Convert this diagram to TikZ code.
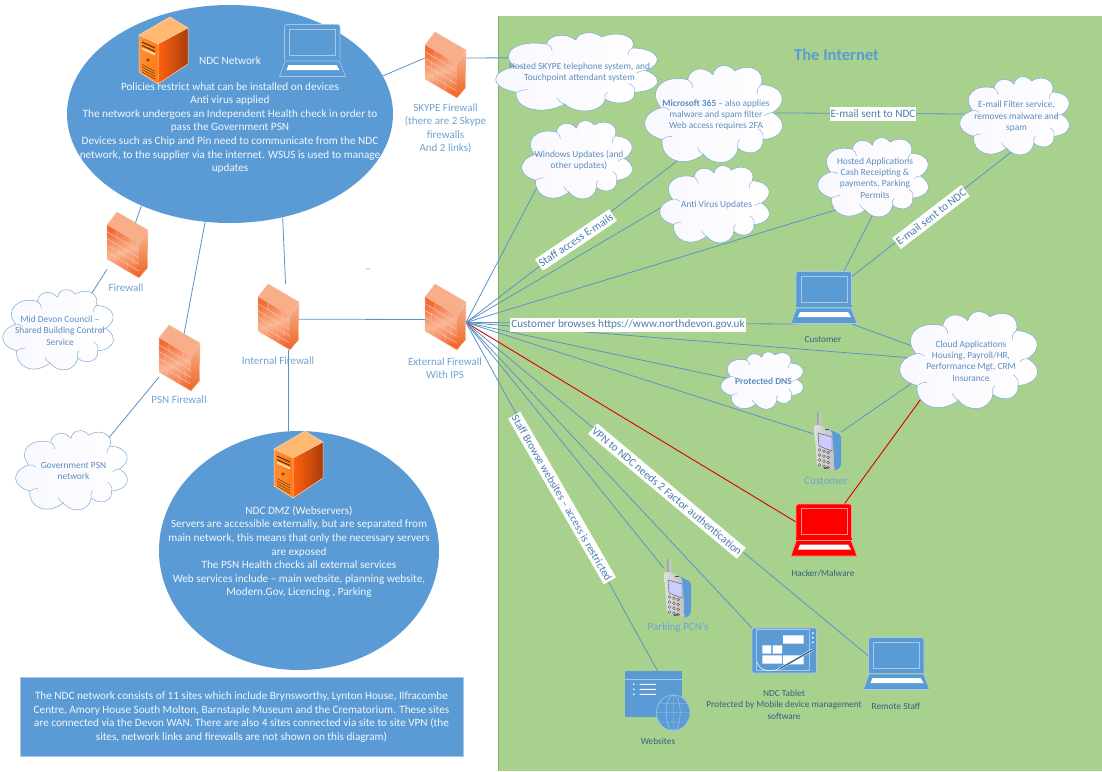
\documentclass[tikz,border=0pt]{standalone}
\usepackage{fontspec}
\setmainfont{Carlito}
\usetikzlibrary{shapes.geometric}
\definecolor{ofblue}{HTML}{5B9BD5}
\definecolor{ofgreen}{HTML}{A9D18E}
\definecolor{ofedge}{HTML}{7FB560}
\definecolor{linkblue}{HTML}{5B93C9}
\definecolor{cloudtxt}{HTML}{5E8DBE}
\definecolor{lbltxt}{HTML}{6FA3D3}
\definecolor{darktxt}{HTML}{35607F}
\definecolor{lidline}{HTML}{A9C8E8}
\definecolor{fwmain}{HTML}{F26A32}
\definecolor{fwlight}{HTML}{F9B492}
\definecolor{fwside}{HTML}{EE6420}
\definecolor{fwtop}{HTML}{F8AE88}
\definecolor{fwbrick}{HTML}{FBC4A6}
\pgfdeclarelayer{bg}\pgfdeclarelayer{lines}\pgfsetlayers{bg,lines,main}
\tikzset{
  cb/.style={bend left=70,looseness=1.5},
  anchorbox/.style={rectangle,inner sep=0pt,outer sep=0pt,minimum width=#1},
  cloudanchor/.style={ellipse,inner sep=0pt,outer sep=0pt},
  link/.style={draw=linkblue,line width=0.8pt},
  redlink/.style={draw=red!85!black,line width=0.9pt},
  body/.style={align=center,text=white!92!ofblue,font=\fontsize{11.2}{13.6}\selectfont,inner sep=0pt},
  cloudtext/.style={align=center,text=cloudtxt,font=\fontsize{9.4}{11.4}\selectfont,inner sep=0pt},
  fwlabel/.style={align=center,text=lbltxt,font=\fontsize{11}{13.5}\selectfont,inner sep=0pt},
  iconlabel/.style={align=center,text=darktxt,font=\fontsize{9.3}{11.4}\selectfont,inner sep=0pt},
  linklabel/.style={fill=white,text=linkblue!85!black,font=\fontsize{11.2}{13}\selectfont,inner xsep=1pt,inner ysep=0pt,minimum height=14pt},
  bluearea/.style={fill=ofblue,draw=none},
}
% cloud: name, cx, cy, w, h, text
\newcommand\cloudN[6]{%
  \begin{scope}[shift={(#2,#3)},xscale={#4/2*0.95},yscale={#5/2}]
    \draw[draw=linkblue!80,line width=0.5pt,left color=blue!3!white,right color=white]
      (-.88,-.15) to[cb] (-.45,-.72) to[cb] (-.05,-.82) to[cb] (.3,-.9) to[cb] (.72,-.62)
      to[cb] (.9,-.05) to[cb] (.75,.5) to[cb] (.35,.68) to[cb] (-.2,.8) to[cb] (-.86,.5) to[cb] (-.88,-.15);
    \draw[draw=linkblue!80,line width=0.4pt]
      (-.88,-.15) to[bend left=30] (-.74,-.1)
      (-.45,-.72) to[bend left=25] (-.37,-.55)
      (.72,-.62) to[bend right=25] (.66,-.44)
      (.9,-.05) to[bend right=25] (.77,.02)
      (.75,.5) to[bend right=30] (.67,.28)
      (.35,.68) to[bend left=25] (.38,.5)
      (-.2,.8) to[bend left=20] (-.3,.66)
      (-.86,.5) to[bend left=25] (-.7,.44);
  \end{scope}
  \node[cloudanchor,minimum width={0.9*#4},minimum height={0.9*#5}] (#1) at (#2,#3) {};
  \node[cloudtext] (#1-text) at (#2,#3) {#6};
}
% firewall: name, left, top
\newcommand\firewallN[3]{%
  \begin{scope}[shift={(#2,#3)}]
    \fill[fill=fwtop] (0,13) -- (10,0) -- (41,18) -- (32,32) -- cycle;
    \shade[top color=fwlight,bottom color=fwside] (32,32) -- (41,18) -- (40.5,56) -- (32,66) -- cycle;
    \shade[left color=fwmain,right color=fwmain,middle color=fwlight,shading angle=20]
       (0,13) -- (32,32) -- (32,66) -- (0,47) -- cycle;
    \draw[fwbrick,line width=0.5pt]
      (0,19.8) -- (32,38.8) (0,26.6) -- (32,45.6) (0,33.4) -- (32,52.4) (0,40.2) -- (32,59.2)
      (10,19) -- (10,25.7) (24,27) -- (24,33.8) (6,29) -- (6,35.7) (18,36) -- (18,42.9)
      (12,37) -- (12,44) (26,45) -- (26,52) (8,43) -- (8,50) (20,50) -- (20,57);
    \draw[white!60!fwmain,line width=0.4pt] (0,13) -- (10,0) -- (41,18) -- (40.5,56) -- (32,66) -- (0,47) -- cycle (32,32) -- (41,18);
  \end{scope}
  \node[anchorbox=41pt,minimum height=66pt] (#1) at (#2+20.5,#3+33) {};
}
% server: name, left, top
\newcommand\serverN[3]{%
  \begin{scope}[shift={(#2,#3)}]
    \fill[orange!55!white] (0,18) -- (31,0) -- (49,11) -- (19,27) -- cycle;
    \shade[left color=orange!90!red!80,right color=orange!85!red!90] (0,18) -- (19,27) -- (19,67) -- (0,55) -- cycle;
    \shade[left color=orange!70!red!95,right color=orange!60!red!65!black!95] (19,27) -- (49,11) -- (49,47) -- (19,67) -- cycle;
    \draw[white!70!orange,line width=0.5pt] (0,18) -- (31,0) -- (49,11) -- (49,47) -- (19,67) -- (0,55) -- cycle (0,18) -- (19,27) -- (49,11) (19,27) -- (19,67);
    \draw[black!70!orange,line width=0.9pt] (3,25) -- (16,31) (3,28.5) -- (16,34.5);
    \fill[white!70!orange] (3,30.5) -- (16,36.5) -- (16,38.5) -- (3,32.5) -- cycle;
    \fill[black!70!orange] (9,43) circle (1.6);
    \fill[green!40!white] (9,43) circle (0.7);
    \draw[black!60!orange,line width=0.45pt] (3,50) -- (16,57) (3,52.5) -- (16,59.5) (3,55) -- (16,62) (3,47.5) -- (16,54.5);
  \end{scope}
  \node[anchorbox=49pt,minimum height=66pt] (#1) at (#2+24.5,#3+33) {};
}
% laptop: name, left, top, fill, outline, scaled to 66x53
\newcommand\laptopN[5]{%
  \begin{scope}[shift={(#2,#3)}]
    \draw[fill=#4,draw=#5,line width=0.6pt,rounded corners=2.5pt] (5,36) -- (5,0.5) -- (60.5,0.5) -- (60.5,36);
    \fill[#4] (5,34) rectangle (60.5,36);
    \draw[draw=#5,line width=0.6pt] (10,5) rectangle (56,31);
    \draw[fill=#4,draw=#5,line width=0.6pt] (5.5,37) -- (60,37) -- (66,52.5) -- (0,52.5) -- cycle;
    \fill[white] (9,41) -- (57,41) -- (60,46) -- (7,46) -- cycle;
  \end{scope}
  \node[anchorbox=56pt,minimum height=53pt] (#1) at (#2+33,#3+26.5) {};
}
% phone: name, left, top
\newcommand\phoneN[3]{%
  \begin{scope}[shift={(#2,#3)}]
    \fill[gray!45,rounded corners=1pt] (3,0) rectangle (7,14);
    \fill[gray!70] (3,0) rectangle (4.5,14);
    \fill[ofblue,rounded corners=2pt] (15,17) -- (27,23) -- (27,55) -- (21,59) -- (17,58) -- cycle;
    \shade[left color=gray!25,right color=gray!50,rounded corners=2pt] (0,13) -- (6,13) -- (18,19) -- (21,59) -- (3,54) -- cycle;
    \draw[black!70,fill=white!80!blue,line width=0.4pt] (4,21) -- (18,25) -- (18,39) -- (5,34) -- cycle;
    \foreach \r in {0,1,2,3}{\foreach \c in {0,1,2}{
      \draw[black!70,line width=0.35pt] ({5.6+\c*4.3},{38+\r*5+\c*1.2}) circle (1.4);}}
    \fill[black!70] (11,16.5) rectangle (15,18);
    \fill[black!70] (10,57) -- (14,56) -- (14,55) -- (10,55.5) -- cycle;
  \end{scope}
  \node[anchorbox=27pt,minimum height=59pt] (#1) at (#2+13.5,#3+29.5) {};
}
\begin{document}
\begin{tikzpicture}[x=1pt,y=-1pt,line cap=butt]
\useasboundingbox (0,0) rectangle (1102,771);
\begin{pgfonlayer}{bg}
  \fill[white] (0,0) rectangle (1102,771);
  \fill[ofgreen] (498,16) rectangle (1102,771);
  \draw[ofedge,line width=1pt] (498,16) -- (498,771);
\end{pgfonlayer}

% --- main blue areas
\node[ellipse,bluearea,inner sep=0pt,minimum width=326pt,minimum height=218pt] (ndc) at (230,114) {};
\node[ellipse,bluearea,inner sep=0pt,minimum width=280pt,minimum height=239pt] (dmz) at (299,550.5) {};
\node[rectangle,draw=lidline,line width=0.4pt,fill=ofblue,minimum width=443pt,minimum height=79pt,inner sep=0pt] (sites) at (241.5,716.5) {};

\serverN{ndcserver}{139}{17}
\laptopN{ndclaptop}{279.5}{24}{ofblue}{lidline}
\node[body] (ndctitle) at (230,61) {NDC Network};
\node[body] (ndctext) at (230,128) {Policies restrict what can be installed on devices\\Anti virus applied\\The network undergoes an Independent Health check in order to\\pass the Government PSN\\Devices such as Chip and Pin need to communicate from the NDC\\network, to the supplier via the internet. WSUS is used to manage\\updates};

\serverN{dmzserver}{274}{431}
\node[body] (dmztext) at (299,552) {NDC DMZ (Webservers)\\Servers are accessible externally, but are separated from\\main network, this means that only the necessary servers\\are exposed\\The PSN Health checks all external services\\Web services include -- main website, planning website,\\Modern.Gov, Licencing , Parking};
\node[body] (sitestext) at (241.5,717) {The NDC network consists of 11 sites which include Brynsworthy, Lynton House, Ilfracombe\\Centre, Amory House South Molton, Barnstaple Museum and the Crematorium. These sites\\are connected via the Devon WAN. There are also 4 sites connected via site to site VPN (the\\sites, network links and firewalls are not shown on this diagram)};

% --- firewalls
\firewallN{fwskype}{425}{32}
\firewallN{fwleft}{107}{212}
\firewallN{fwpsn}{159}{325}
\firewallN{fwint}{258}{284}
\firewallN{fwext}{425}{284}
\node[fwlabel] (lblskype) at (445.5,128.5) {SKYPE Firewall\\(there are 2 Skype\\firewalls\\And 2 links)};
\node[fwlabel] (lblleft) at (126,288) {Firewall};
\node[fwlabel] (lblpsn) at (179,400) {PSN Firewall};
\node[fwlabel] (lblint) at (278,361) {Internal Firewall};
\node[fwlabel] (lblext) at (445,368) {External Firewall\\With IPS};
\node[fwlabel] (dash) at (368,271) {--};

% --- clouds
\cloudN{cmid}{60}{330.5}{106}{81}{Mid Devon Council --\\Shared Building Control\\Service}
\cloudN{cgov}{73.5}{471}{107}{80}{Government PSN\\network}
\cloudN{cskype}{579.5}{72.5}{155}{79}{Hosted SKYPE telephone system, and\\Touchpoint attendant system}
\cloudN{cm365}{716}{115}{132}{98}{\textbf{Microsoft 365} -- also applies\\malware and spam filter\\Web access requires 2FA}
\cloudN{cwin}{579}{160.5}{106}{79}{Windows Updates (and\\other updates)}
\cloudN{cav}{716.5}{205}{105}{78}{Anti Virus Updates}
\cloudN{capps}{875}{178}{106}{80}{Hosted Applications\\Cash Receipting \&\\payments, Parking\\Permits}
\cloudN{cfilter}{1016.5}{116.5}{105}{79}{E-mail Filter service,\\removes malware and\\spam}
\cloudN{ccloud}{971}{361}{132}{98}{Cloud Applications\\Housing, Payroll/HR,\\Performance Mgt, CRM\\Insurance}
\cloudN{cdns}{763.5}{381}{79}{58}{\textbf{Protected DNS}}

\node[font=\bfseries\fontsize{16.5}{19}\selectfont,text=ofblue,inner sep=0pt] (internet) at (836.5,55) {The Internet};

% --- devices
\laptopN{lapcust}{791}{271}{ofblue}{lidline}
\node[iconlabel] (lblcust) at (823,340) {Customer};
\phoneN{phonecust}{814}{412}
\node[fwlabel] (lblphone) at (826,481) {Customer};
\laptopN{laphack}{791}{503.5}{red}{red!45!white}
\node[iconlabel] (lblhack) at (823,573) {Hacker/Malware};
\phoneN{phonepark}{664}{559}
\node[fwlabel] (lblpark) at (678,628) {Parking PCN's};
\laptopN{lapremote}{863.5}{637}{ofblue}{lidline}
\node[iconlabel] (lblremote) at (896,706) {Remote Staff};

% tablet
\begin{scope}[shift={(752,628)}]
  \draw[fill=ofblue,draw=lidline,line width=0.7pt,rounded corners=1.5pt] (0,0) rectangle (64.5,45);
  \draw[lidline,line width=0.4pt] (4,1.5) rectangle (57,42.5);
  \fill[white] (31,7.3) rectangle (51.5,15.7) (10.4,17.3) rectangle (19.2,25.7) (20.7,17.3) rectangle (30.2,25.7) (10.4,27.3) rectangle (30.2,35.7) (31,27.3) rectangle (51.5,36.3);
  \fill[white] (60.8,5) circle (1) (60.8,9.7) circle (1) (60.8,14.3) circle (1);
  \draw[white,line width=2.4pt] (60.8,21.7) -- (27.7,40.7);
  \draw[black!35!ofblue,line width=1.4pt] (60.8,21.7) -- (27.7,40.7);
  \draw[white,line width=0.5pt] (5,34) .. controls (8,44) and (18,44) .. (27.7,40.7);
\end{scope}
\node[anchorbox=64.5pt,minimum height=45pt] (tablet) at (784.2,650.5) {};
\node[iconlabel] (lbltablet) at (784,704.5) {NDC Tablet\\Protected by Mobile device management\\software};

% websites
\begin{scope}[shift={(625,671)}]
  \fill[ofblue] (0,0) rectangle (56.6,45.7);
  \draw[lidline,line width=0.5pt] (0,8) -- (56.6,8);
  \fill[white] (8.8,13.3) circle (0.9) (8.8,18.3) circle (0.9) (8.8,23.3) circle (0.9);
  \fill[white] (14.5,12.8) rectangle (31,13.9) (14.5,17.8) rectangle (31,18.9) (14.5,22.8) rectangle (31,23.9);
  \draw[draw=lidline,fill=ofblue,line width=0.5pt] (48.2,41.7) ellipse (16.8 and 17.8);
  \draw[lidline,line width=0.4pt] (48.2,41.7) ellipse (7 and 17.8) (48.2,23.9) -- (48.2,59.5)
    (31.4,41.7) -- (65,41.7) (33.5,32.5) -- (63,32.5) (33.5,51) -- (63,51);
\end{scope}
\node[anchorbox=65pt,minimum height=60pt] (web) at (657.5,701) {};
\node[iconlabel] (lblweb) at (658,741) {Websites};

% --- connector labels
\node[linklabel] (l1) at (873,114) {E-mail sent to NDC};
\node[linklabel] (l2) at (628,324.5) {Customer browses https://www.northdevon.gov.uk};
\node[linklabel,rotate=34] (l3) at (576,240) {Staff access E-mails};
\node[linklabel,rotate=37.5] (l4) at (931,217) {E-mail sent to NDC};
\node[linklabel,rotate=-40] (l5) at (667,491) {VPN to NDC needs 2 Factor authentication};
\node[linklabel,rotate=-60,font=\fontsize{10.9}{13}\selectfont] (l6) at (562,498) {Staff Browse websites -- access is restricted};

% --- connectors
\begin{pgfonlayer}{lines}
  \path[link] (ndc.14.4) -- (fwskype.161);
  \path[link] (fwskype.19) -- (cskype.167.2);
  \path[link] (ndc.226) -- (fwleft.center);
  \path[link] (fwleft.230) -- (cmid.48.5);
  \path[link] (ndc.257.6) -- (fwpsn.center);
  \path[link] (fwpsn.223.5) -- (cgov.42);
  \path[link] (ndc.297.7) -- (fwint.78);
  \path[link] (fwint.287) -- (dmz.95.3);
  \path[link] (fwint.354) -- (fwext.187);
  \path[link] (fwext.345) -- (cwin.208);
  \path[link] (fwext.345) -- (cm365.233);
  \path[link] (fwext.345) -- (cav.177);
  \path[link] (fwext.345) -- (capps.225);
  \path[link] (fwext.345) -- (lapcust.south west);
  \path[link] (fwext.345) -- (ccloud.177);
  \path[link] (fwext.345) -- (cdns.176);
  \path[link] (fwext.345) -- (phonecust.151);
  \path[redlink] (fwext.345) -- (laphack.164);
  \path[redlink] (laphack.52.4) -- (ccloud.214);
  \path[link] (fwext.345) -- (lapremote.165);
  \path[link] (fwext.345) -- (tablet.north west);
  \path[link] (fwext.345) -- (phonepark.124);
  \path[link] (fwext.345) -- (web.north);
  \path[link] (cm365.2) -- (cfilter.177);
  \path[link] (capps.267) -- (lapcust.53);
  \path[link] (cfilter.262) -- (lapcust.37);
  \path[link] (lapcust.south east) -- (ccloud.166);
  \path[link] (phonecust.35) -- (ccloud.199);
\end{pgfonlayer}
\end{tikzpicture}
\end{document}
